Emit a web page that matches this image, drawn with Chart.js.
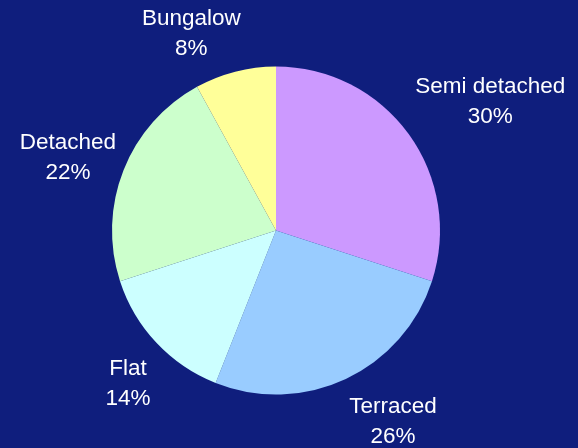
<!DOCTYPE html>
<html>
<head>
<meta charset="utf-8">
<script src="https://cdn.jsdelivr.net/npm/chart.js@4/dist/chart.umd.min.js"></script>
<style>
  html, body { margin: 0; padding: 0; background: #0f1e7d; }
  #wrap { width: 578px; height: 448px; position: relative; }
</style>
</head>
<body>
<div id="wrap"><canvas id="c" width="578" height="448"></canvas></div>
<script>
const categories = ["Semi detached", "Terraced", "Flat", "Detached", "Bungalow"];
const shares = [30, 26, 14, 22, 8];
const sliceColors = ["#cc99ff", "#99ccff", "#ccffff", "#ccffcc", "#ffff99"];

const labelPlugin = {
  id: 'outsideLabels',
  afterDatasetsDraw(chart) {
    const ctx = chart.ctx;
    const meta = chart.getDatasetMeta(0);
    const fontSize = 22.5, lineH = 30;
    ctx.save();
    ctx.font = fontSize + 'px "Liberation Sans", Arial, sans-serif';
    ctx.fillStyle = '#ffffff';
    ctx.textAlign = 'center';
    ctx.textBaseline = 'middle';
    meta.data.forEach((arc, i) => {
      const p = arc.getProps(['x', 'y', 'startAngle', 'endAngle', 'outerRadius'], true);
      const mid = (p.startAngle + p.endAngle) / 2;
      const dx = Math.cos(mid), dy = Math.sin(mid);
      const ax = p.x + dx * (p.outerRadius + 8);
      const ay = p.y + dy * (p.outerRadius + 8);
      const lines = [categories[i], shares[i] + '%'];
      const w = Math.max(...lines.map(t => ctx.measureText(t).width));
      const h = lineH * lines.length;
      const fx = Math.sign(dx) * Math.min(1, 0.6 + Math.abs(dx));
      const fy = Math.max(-1, Math.min(1.2, dy * 2.9 + 0.77));
      const cx = ax + fx * w / 2;
      const cy = ay + fy * h / 2;
      lines.forEach((t, k) => {
        ctx.fillText(t, cx, cy - h / 2 + lineH * (k + 0.5));
      });
    });
    ctx.restore();
  }
};

new Chart(document.getElementById('c'), {
  type: 'pie',
  data: {
    labels: categories,
    datasets: [{
      data: shares,
      backgroundColor: sliceColors,
      borderWidth: 0
    }]
  },
  options: {
    responsive: false,
    animation: false,
    layout: { padding: { top: 66, bottom: 53, left: 112, right: 138 } },
    plugins: {
      legend: { display: false },
      tooltip: { enabled: false }
    }
  },
  plugins: [labelPlugin]
});
</script>
</body>
</html>
